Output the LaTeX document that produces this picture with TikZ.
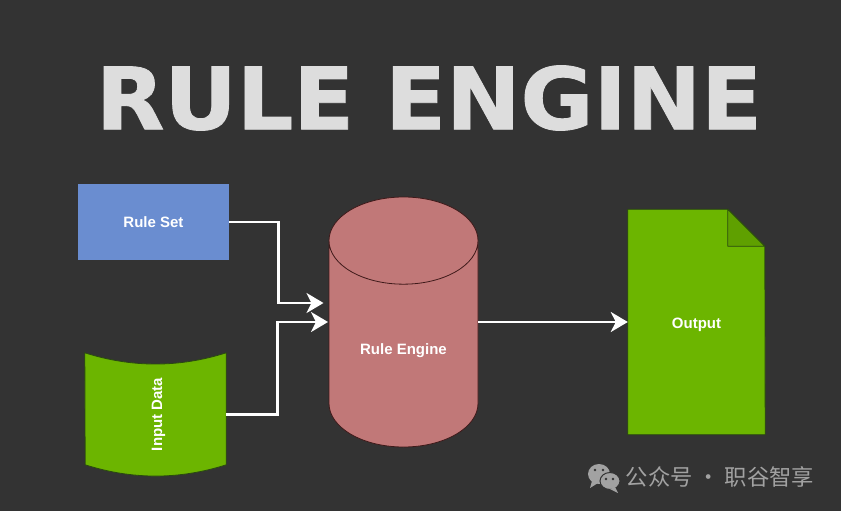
\documentclass[tikz,border=0pt]{standalone}
\usepackage{fontspec}
\setmainfont{Liberation Sans}
\newfontfamily\titlefont[FakeBold=1,FakeStretch=1.035]{DejaVu Sans}
\newfontfamily\cjkfont{Noto Sans CJK SC}
\usetikzlibrary{positioning,arrows.meta,shapes.geometric,backgrounds}
\definecolor{slatebg}{HTML}{333333}
\definecolor{titlegrey}{HTML}{DDDDDD}
\definecolor{blockblue}{HTML}{6A8DD0}
\definecolor{blockgreen}{HTML}{6CB500}
\definecolor{foldgreen}{HTML}{5FA000}
\definecolor{edgegreen}{HTML}{2A4A10}
\definecolor{blockred}{HTML}{C17878}
\definecolor{edgered}{HTML}{3F1A1A}
\definecolor{markgrey}{HTML}{A2A2A2}

\begin{document}
\begin{tikzpicture}[
    x=1pt, y=-1pt,
    labeltext/.style={text=white, font=\bfseries\fontsize{15}{17}\selectfont},
    setnode/.style={rectangle, labeltext, fill=blockblue, minimum width=151pt, minimum height=76pt, inner sep=0pt},
    enginenode/.style={cylinder, shape border rotate=90, aspect=0.934, labeltext, draw=edgered, thick,
        fill=blockred, minimum width=149pt, minimum height=250pt},
    plainnode/.style={rectangle, labeltext, inner sep=0pt},
    greenshape/.style={fill=blockgreen, draw=edgegreen, thick, line join=round},
    flow/.style={draw=white, line width=2.6pt, -{Stealth[length=17pt, width=20pt, inset=5pt]}},
    ]
    \useasboundingbox (0,0) rectangle (841,511);

    %Nodes
    \node[text=titlegrey, font=\titlefont\bfseries\fontsize{86}{90}\selectfont] (title) at (429,98) {RULE ENGINE};
    \node[setnode]      (ruleset)    at (153.5,222)                  {Rule Set};
    \node[enginenode, anchor=shape center] (ruleengine) at (403.5,322) {Rule Engine};
    \node[plainnode, minimum width=137pt, minimum height=225pt] (output) at (696.5,322) {\raisebox{-6pt}[0pt][0pt]{Output}};
    \node[plainnode, minimum width=141pt, minimum height=123pt] (inputdata) at (155.5,414.5) {\hspace*{6pt}\rotatebox{90}{Input Data}};
    \node[text=markgrey, font=\cjkfont\fontsize{22.3}{24}\selectfont] (wxname) at (720,477) {公众号 · 职谷智享};

    %Shapes behind the text
    \begin{scope}[on background layer]
        \fill[slatebg] (0,0) rectangle (841,511);
        \draw[greenshape] (inputdata.north west) .. controls +(47,15) and +(-47,15) .. (inputdata.north east)
            -- ++(0,112) .. controls +(-47,15) and +(47,15) .. ++(-141,0) -- cycle;
        \draw[greenshape] (output.north west) -- ++(100,0) coordinate (foldtop) -- ++(37,37) coordinate (foldright)
            -- (output.south east) -- (output.south west) -- cycle;
        \draw[greenshape, fill=foldgreen] (foldtop) -- (foldright) -- (foldtop |- foldright) -- cycle;
    \end{scope}

    %Chat icon
    \fill[markgrey] (599,474) ellipse (11 and 10);
    \fill[markgrey] (592,481) -- (590,488) -- (598,483) -- cycle;
    \draw[slatebg, fill=markgrey, line width=1pt] (610,481) ellipse (10 and 8.5);
    \fill[markgrey] (615,487) -- (618,493) -- (610,489) -- cycle;
    \foreach \eyex/\eyey in {595/470, 603/470, 606/479, 613/479}
        \fill[slatebg] (\eyex,\eyey) circle (1.3);

    %Lines
    \coordinate (ruletip) at (323.5,303);
    \coordinate (inputtip) at (328,322);
    \draw[flow] (ruleset.east) -- ++(49,0) |- (ruletip);
    \draw[flow] (inputdata.east) -- ++(51,0) |- (inputtip);
    \draw[flow] (ruleengine.east |- output.west) -- (output.west);
\end{tikzpicture}
\end{document}
